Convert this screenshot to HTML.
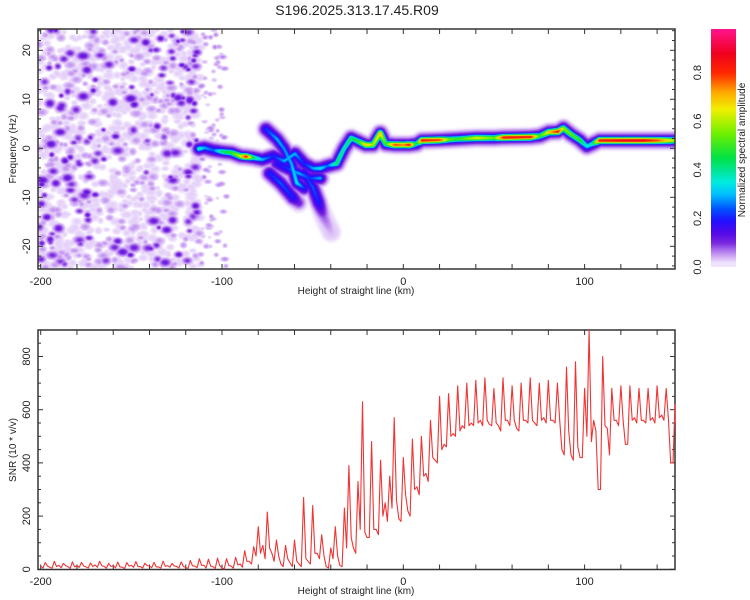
<!DOCTYPE html>
<html><head><meta charset="utf-8">
<style>
html,body{margin:0;padding:0;background:#fff;}
#root{position:relative;width:750px;height:600px;overflow:hidden;font-family:"Liberation Sans",sans-serif;}
canvas{position:absolute;}
svg{position:absolute;left:0;top:0;}
</style></head>
<body>
<div id="root">
<canvas id="heat" width="637" height="240" style="left:38px;top:29px"></canvas>
<canvas id="cbar" width="25" height="238" style="left:711px;top:29px"></canvas>
<svg id="svg" width="750" height="600"></svg>
</div>
<script>
// ---------- data ----------
const xTicks = [-200, -100, 0, 100];
const fTicks = [-20, -10, 0, 10, 20];
const snrTicks = [0, 200, 400, 600, 800];
const cbTicks = [0.0, 0.2, 0.4, 0.6, 0.8];

// main ridge of spectrogram: km, frequency (Hz), normalized amplitude
const ridgeKm   = [-113,-110,-105,-100,-95,-90,-87,-83,-78,-72,-66,-60,-55,-50,-46,-42,-37,-33,-29,-25,-21,-17,-13,-10,-5,0,3,7,10,20,25,30,40,50,55,70,75,80,85,88,92,97,101,104,108,130,140,150];
const ridgeFreq = [0,0.2,-0.3,-0.6,-0.8,-1.5,-1.6,-1.8,-2.2,-1.5,-2.5,-1,-3,-4,-4,-3.5,-3,0,2.2,1.5,0.8,0.8,3.2,1,0.8,0.8,0.8,1,1.7,1.8,1.9,2.0,2.2,2.2,2.3,2.4,2.6,3.4,3.5,4.2,3,1.8,0.5,1,1.7,1.7,1.7,1.7];
const ridgeAmp  = [0.4,0.3,0.25,0.45,0.5,0.65,0.85,0.45,0.3,0.2,0.3,0.3,0.2,0.3,0.35,0.25,0.45,0.4,0.45,0.5,0.7,0.6,0.7,0.5,0.8,0.75,0.85,0.4,0.85,0.8,0.55,0.5,0.65,0.55,0.85,0.85,0.5,0.7,0.85,0.6,0.55,0.5,0.35,0.4,0.85,0.9,0.8,0.6];
// secondary branches
const branch1Km = [-76,-70,-66,-62,-59,-55];
const branch1Freq = [4,2,0,-3,-7,-8];
const branch1Amp = [0.22,0.3,0.28,0.3,0.35,0.22];
const branch2Km = [-74,-68,-61,-58];
const branch2Freq = [-5,-7,-10,-11];
const branch2Amp = [0.2,0.25,0.2,0.12];
const branch3Km = [-55,-50,-47,-44,-40];
const branch3Freq = [-5,-8,-11,-14,-17];
const branch3Amp = [0.2,0.25,0.2,0.08,0.04];
const branch4Km = [-70,-64,-58,-52,-46];
const branch4Freq = [-3,-4,-5,-6,-6];
const branch4Amp = [0.18,0.22,0.3,0.22,0.3];

// SNR series, km from -200 step 2.5: peak and trough within each step
const snrStartKm = -200;
const snrStepKm = 2.5;
const snrPeak = [12,25,8,30,15,22,10,28,14,26,9,24,16,30,11,22,13,27,8,25,15,29,10,23,12,26,9,31,14,22,11,28,7,33,12,40,
15,38,10,42,5,40,12,45,20,
70,30,85,160,90,215,60,110,20,90,25,110,20,270,30,240,60,130,10,80,160,15,230,390,80,330,630,120,480,150,410,250,350,570,190,420,
220,490,310,500,360,560,410,650,470,660,510,690,540,700,550,710,560,720,545,680,540,720,560,690,530,700,560,720,550,700,570,710,560,700,
450,760,430,780,420,680,900,560,300,800,530,680,560,690,470,690,570,680,560,680,570,690,580,680,400,620];
const snrLow = [5,12,4,10,6,14,3,9,7,12,5,10,8,13,4,11,6,9,3,12,7,10,5,14,6,9,4,11,8,12,5,10,3,13,6,15,5,12,3,14,2,15,4,16,8,
30,20,50,60,40,80,30,50,10,40,10,30,10,40,20,60,40,50,5,40,50,10,80,120,60,150,140,120,150,130,200,180,230,260,180,280,
200,300,280,350,330,420,400,450,460,500,500,520,530,540,540,550,540,560,540,550,520,560,540,560,520,560,550,560,540,560,550,560,550,560,
430,520,410,460,420,500,480,520,300,540,430,560,540,560,470,560,550,560,550,560,550,570,560,560,400,550];

// ---------- scales ----------
const PL=38, PR=675, T1=29, B1=269, T2=330, B2=569.5;
const xs = km => 403.3 + 1.813*km;
const yf = f => 148.3 - 4.9*f;
const ys = v => 569.3 - 0.266*v;
const yc = v => 267 - 243*v;

const stops=[[0.015,255,255,255],[0.025,232,214,250],[0.045,208,170,244],[0.075,165,105,236],[0.1,122,40,222],[0.14,85,10,232],[0.19,35,15,255],[0.24,0,80,255],[0.3,0,190,255],[0.35,0,235,225],[0.45,0,225,70],[0.55,110,240,0],[0.65,240,240,0],[0.72,255,170,0],[0.8,255,40,0],[0.88,240,0,30],[0.98,255,20,140]];
function cmap(v){
  if(v<=stops[0][0]) return null;
  if(v>=stops[stops.length-1][0]){const s=stops[stops.length-1];return [s[1],s[2],s[3]];}
  for(let i=1;i<stops.length;i++){
    if(v<=stops[i][0]){const a=stops[i-1],b=stops[i];const t=(v-a[0])/(b[0]-a[0]);
      return [a[1]+(b[1]-a[1])*t,a[2]+(b[2]-a[2])*t,a[3]+(b[3]-a[3])*t];}
  }
}

// ---------- heatmap ----------
const W=637,H=240;
const field=new Float32Array(W*H);
function splat(cx,cy,rx,ry,v){
  const Rx=Math.ceil(rx*2.2),Ry=Math.ceil(ry*2.2);
  for(let y=Math.max(0,Math.floor(cy-Ry));y<=Math.min(H-1,cy+Ry);y++)
   for(let x=Math.max(0,Math.floor(cx-Rx));x<=Math.min(W-1,cx+Rx);x++){
     const d2=(x-cx)*(x-cx)/(rx*rx)+(y-cy)*(y-cy)/(ry*ry);
     const val=v*Math.exp(-d2);
     const k=y*W+x; if(val>field[k]) field[k]=val;
   }
}
// noise texture (seeded)
let seed=12345;
function rnd(){seed=(seed*1103515245+12345)&0x7fffffff;return seed/0x7fffffff;}
const nw=xs(-112)-PL;
for(let i=0;i<1300;i++){
  const x=rnd()*nw, y=rnd()*H;
  const p=rnd(); let v,r;
  if(p<0.68){v=0.028;r=3.5+rnd()*3.5;} else if(p<0.9){v=0.055;r=2.5+rnd()*2;} else {v=0.095+rnd()*0.04;r=2.3+rnd()*2.2;}
  splat(x,y,r*(1+rnd()*0.6),r,v);
}
for(let i=0;i<90;i++){ const x=nw+rnd()*26, y=rnd()*H; splat(x,y,2.5+rnd()*2,2.5,0.028+rnd()*0.04); }

function drawTrack(kms,fs,amps){
  for(let i=0;i<kms.length-1;i++){
    const x0=xs(kms[i])-PL,y0=yf(fs[i])-T1,x1=xs(kms[i+1])-PL,y1=yf(fs[i+1])-T1;
    const a0=amps[i],a1=amps[i+1];
    const minx=Math.max(0,Math.floor(Math.min(x0,x1)-24)),maxx=Math.min(W-1,Math.ceil(Math.max(x0,x1)+24));
    const miny=Math.max(0,Math.floor(Math.min(y0,y1)-24)),maxy=Math.min(H-1,Math.ceil(Math.max(y0,y1)+24));
    const dx=x1-x0,dy=y1-y0,L2=dx*dx+dy*dy||1;
    for(let y=miny;y<=maxy;y++)for(let x=minx;x<=maxx;x++){
      let t=((x-x0)*dx+(y-y0)*dy)/L2; t=Math.max(0,Math.min(1,t));
      const px=x0+dx*t,py=y0+dy*t; const d2=(x-px)*(x-px)+(y-py)*(y-py);
      const a=a0+(a1-a0)*t;
      const val=Math.max(a*Math.exp(-d2/(2*2.4*2.4)), Math.min(0.2,a)*Math.exp(-d2/(2*4.5*4.5)), 0.035*Math.exp(-d2/(2*9*9)));
      const k=y*W+x; if(val>field[k]) field[k]=val;
    }
  }
}
drawTrack(ridgeKm,ridgeFreq,ridgeAmp);
drawTrack(branch1Km,branch1Freq,branch1Amp);
drawTrack(branch2Km,branch2Freq,branch2Amp);
drawTrack(branch3Km,branch3Freq,branch3Amp);
drawTrack(branch4Km,branch4Freq,branch4Amp);

const hc=document.getElementById('heat').getContext('2d');
const img=hc.createImageData(W,H);
for(let k=0;k<W*H;k++){const c=cmap(field[k]);
  if(c){img.data[k*4]=c[0];img.data[k*4+1]=c[1];img.data[k*4+2]=c[2];}else{img.data[k*4]=255;img.data[k*4+1]=255;img.data[k*4+2]=255;}
  img.data[k*4+3]=255;}
hc.putImageData(img,0,0);

// colorbar
const cc=document.getElementById('cbar').getContext('2d');
for(let y=0;y<238;y++){const v=Math.max(0.022,(267-(29+y))/243);const c=cmap(v);
  cc.fillStyle='rgb('+c.map(Math.round).join(',')+')';cc.fillRect(0,y,25,1);}

// ---------- SVG axes ----------
const NS='http://www.w3.org/2000/svg';
const svg=document.getElementById('svg');
function el(tag,attrs,parent){const e=document.createElementNS(NS,tag);for(const k in attrs)e.setAttribute(k,attrs[k]);(parent||svg).appendChild(e);return e;}
function txt(s,x,y,opts,name){const e=el('text',Object.assign({x:x,y:y,'font-size':11,'font-family':'Liberation Sans, sans-serif',fill:'#222'},opts||{}));e.textContent=s;
  
  
  return e;}

txt('S196.2025.313.17.45.R09',357,15,{'text-anchor':'middle','font-size':14},'chart-title');

function frame(top,bot,name){
  const g=el('g',{});
  
  
  el('rect',{x:PL,y:top,width:PR-PL,height:bot-top,fill:'none',stroke:'#333','stroke-width':1.5},g);
  for(let km=-200;km<=140;km+=20){const x=xs(km);
    el('line',{x1:x,x2:x,y1:bot,y2:bot-5,stroke:'#333'},g);
    el('line',{x1:x,x2:x,y1:top,y2:top+5,stroke:'#333'},g);}
  return g;
}
const g1=frame(T1,B1,'spectrogram-frame');
for(let f=-24;f<=24;f+=2){const y=yf(f);if(y<T1||y>B1)continue;
  const len=(f%10===0)?5:3;
  el('line',{x1:PL,x2:PL+len,y1:y,y2:y,stroke:'#333'},g1);
  el('line',{x1:PR,x2:PR-len,y1:y,y2:y,stroke:'#333'},g1);}
xTicks.forEach(v=>txt(String(v),xs(v),285,{'text-anchor':'middle'},'x-tick-label-top'));
fTicks.forEach(v=>{txt(String(v),0,0,{'text-anchor':'middle',transform:'translate(30,'+yf(v)+') rotate(-90)'},'y-tick-label-frequency');});
txt('Height of straight line (km)',356,294,{'text-anchor':'middle','font-size':10},'x-axis-title-top');
txt('Frequency (Hz)',0,0,{'text-anchor':'middle','font-size':10,transform:'translate(16,149) rotate(-90)'},'y-axis-title-frequency');

// colorbar labels
cbTicks.forEach(v=>txt(v.toFixed(1),0,0,{'text-anchor':'middle',transform:'translate(701,'+yc(v)+') rotate(-90)'},'colorbar-tick-label'));
txt('Normalized spectral amplitude',0,0,{'text-anchor':'middle','font-size':10,transform:'translate(745,150) rotate(-90)'},'colorbar-title');

// bottom plot
const g2=frame(T2,B2,'snr-frame');
for(let v=0;v<=900;v+=50){const y=ys(v);if(y<T2)continue;const len=(v%200===0)?5:3;
  el('line',{x1:PL,x2:PL+len,y1:y,y2:y,stroke:'#333'},g2);
  el('line',{x1:PR,x2:PR-len,y1:y,y2:y,stroke:'#333'},g2);}
xTicks.forEach(v=>txt(String(v),xs(v),585,{'text-anchor':'middle'},'x-tick-label-bottom'));
snrTicks.forEach(v=>txt(String(v),0,0,{'text-anchor':'middle',transform:'translate(30,'+ys(v)+') rotate(-90)'},'y-tick-label-snr'));
txt('Height of straight line (km)',356,594,{'text-anchor':'middle','font-size':10},'x-axis-title-bottom');
txt('SNR (10 * v/v)',0,0,{'text-anchor':'middle','font-size':10,transform:'translate(16,450) rotate(-90)'},'y-axis-title-snr');

let d='';
snrPeak.forEach((v,i)=>{const km=snrStartKm+i*snrStepKm;
  const x=Math.min(PR,xs(km)), x2=Math.min(PR,xs(km+snrStepKm/2));
  d+=(i?'L':'M')+x.toFixed(1)+','+ys(v).toFixed(1)+'L'+x2.toFixed(1)+','+ys(snrLow[i]).toFixed(1);});
const line=el('path',{d:d,fill:'none',stroke:'#f03434','stroke-width':1.1,'stroke-linejoin':'round'});


</script>
</body></html>
